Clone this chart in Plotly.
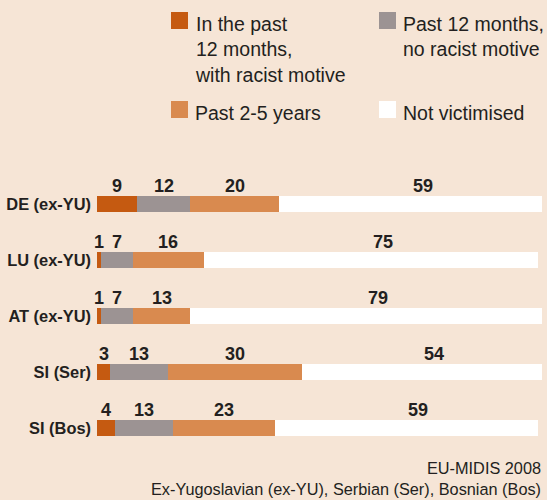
import plotly.graph_objects as go

# Respondent groups, top to bottom
groups = ["DE (ex-YU)", "LU (ex-YU)", "AT (ex-YU)", "SI (Ser)", "SI (Bos)"]

# Share of respondents (%) by assault/threat victimisation status
racist_12m = [9, 1, 1, 3, 4]
non_racist_12m = [12, 7, 7, 13, 13]
past_2_5y = [20, 16, 13, 30, 23]
not_victimised = [59, 75, 79, 54, 59]

series_names = [
    "In the past<br>12 months,<br>with racist motive",
    "Past 12 months,<br>no racist motive",
    "Past 2-5 years",
    "Not victimised",
]
series_values = [racist_12m, non_racist_12m, past_2_5y, not_victimised]
series_colors = ["#C55A11", "#9C9393", "#D98A4F", "#FFFFFF"]

source_note = "EU-MIDIS 2008"
abbrev_note = "Ex-Yugoslavian (ex-YU), Serbian (Ser), Bosnian (Bos)"

W, H = 547, 500
BG = "#F6E5D6"
INK = "#231F20"


def px_x(p):
    return p / W


def px_y(p):
    return 1 - p / H


fig = go.Figure()

for name, vals, col in zip(series_names, series_values, series_colors):
    fig.add_trace(go.Bar(
        y=groups, x=vals, name=name, orientation="h",
        marker=dict(color=col, line=dict(width=0)),
        width=0.29, showlegend=False, hoverinfo="x+y",
    ))

# Value labels centred above each segment
annotations = []
for i, g in enumerate(groups):
    start = 0
    for k, vals in enumerate(series_values):
        v = vals[i]
        annotations.append(dict(
            x=start + v / 2, y=g, xref="x", yref="y",
            text=str(v), showarrow=False,
            xanchor="center", yanchor="bottom",
            yshift=6, xshift=12 if k == len(series_values) - 1 else 0,
            font=dict(family="Liberation Sans", size=18, color=INK, weight="bold"),
        ))
        start += v

# Legend: two columns of square swatches with text
legend_cols = [171, 379]
legend_rows = [12, 101]
shapes = []
for k, (name, col) in enumerate(zip(series_names, series_colors)):
    cx = legend_cols[k % 2]
    cy = legend_rows[k // 2]
    shapes.append(dict(
        type="rect", xref="paper", yref="paper",
        x0=px_x(cx), x1=px_x(cx + 17), y0=px_y(cy), y1=px_y(cy + 17),
        fillcolor=col, line=dict(width=0),
    ))
    annotations.append(dict(
        x=px_x(cx + 22), y=px_y(cy - 1), xref="paper", yref="paper",
        text=name, showarrow=False, align="left",
        xanchor="left", yanchor="top",
        font=dict(family="Liberation Sans", size=19.5, color=INK),
    ))

# Source and abbreviations
annotations.append(dict(
    x=px_x(543), y=px_y(457), xref="paper", yref="paper",
    text=source_note + "<br>" + abbrev_note, showarrow=False, align="right",
    xanchor="right", yanchor="top",
    font=dict(family="Liberation Sans", size=16.3, color=INK),
))

fig.update_layout(
    width=W, height=H,
    margin=dict(l=0, r=0, t=0, b=0, autoexpand=False),
    paper_bgcolor=BG, plot_bgcolor=BG,
    barmode="stack", bargap=0,
    xaxis=dict(domain=[px_x(97), px_x(542)], range=[0, 100],
               visible=False, fixedrange=True),
    yaxis=dict(domain=[px_y(456), px_y(176)], range=[4.5, -0.5],
               type="category", categoryorder="array", categoryarray=groups,
               showgrid=False, zeroline=False, showline=False,
               ticks="", ticklabelstandoff=5,
               tickfont=dict(family="Liberation Sans", size=16.4,
                             color=INK, weight="bold")),
    shapes=shapes,
    annotations=annotations,
)

fig.write_html("out.html")
